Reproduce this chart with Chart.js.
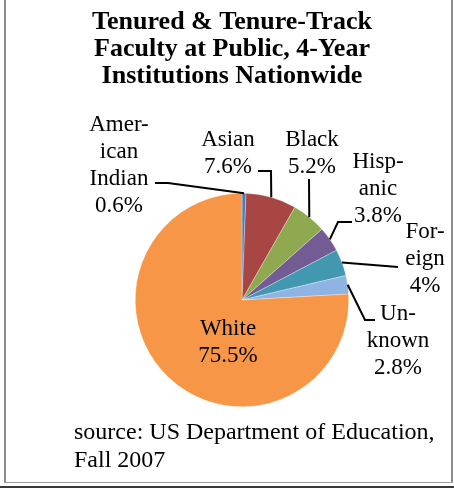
<!DOCTYPE html>
<html>
<head>
<meta charset="utf-8">
<script src="https://cdn.jsdelivr.net/npm/chart.js@4/dist/chart.umd.min.js"></script>
<style>
  html, body { margin: 0; padding: 0; background: #fff; }
  #wrap { position: relative; width: 454px; height: 493px; overflow: hidden; }
  #pie { position: absolute; left: 0; top: 0; }
  .rule { position: absolute; }
</style>
</head>
<body>
<div id="wrap">
  <canvas id="pie" width="454" height="493"></canvas>
  <div class="rule" style="left:4px;top:0;width:2px;height:483px;background:#8c8c8c"></div>
  <div class="rule" style="left:451px;top:0;width:2px;height:483px;background:#8c8c8c"></div>
  <div class="rule" style="left:4px;top:482px;width:449px;height:1px;background:#a0a0a0"></div>
  <div class="rule" style="left:0;top:486px;width:454px;height:2px;background:#3a3a3a"></div>
</div>
<script>
const titleLines = ['Tenured & Tenure-Track', 'Faculty at Public, 4-Year', 'Institutions Nationwide'];
const sourceLines = ['source: US Department of Education,', 'Fall 2007'];

const categories = ['American Indian', 'Asian', 'Black', 'Hispanic', 'Foreign', 'Unknown', 'White'];
const shares = [0.6, 7.6, 5.2, 3.8, 4, 2.8, 75.5];
const sliceColors = ['#4a7ebb', '#a84644', '#8ea94f', '#735c94', '#4198af', '#8eb4e3', '#f79646'];

// wrapped label text for each slice, percentage line is added from shares
const labelLines = [
  ['Amer-', 'ican', 'Indian'],
  ['Asian'],
  ['Black'],
  ['Hisp-', 'anic'],
  ['For-', 'eign'],
  ['Un-', 'known'],
  ['White']
];

// where each label sits: centre x, first baseline, leader end and optional elbow
const labelSpots = [
  { x: 119, y: 131, end: [155, 183], elbow: [168, 183] },
  { x: 228, y: 146, end: [258, 171], elbow: [271, 171] },
  { x: 312, y: 146, end: [309, 179], elbow: null },
  { x: 378, y: 168, end: [352, 222], elbow: [338, 222] },
  { x: 425, y: 238, end: [398, 267], elbow: null },
  { x: 398, y: 320, end: [375, 320], elbow: [365, 320] },
  { x: 228, y: 335, end: null, elbow: null }
];

const serif = '"Liberation Serif", "Times New Roman", serif';

const textLayer = {
  id: 'textLayer',
  afterDraw(chart) {
    const ctx = chart.ctx;
    ctx.save();
    ctx.fillStyle = '#000';
    ctx.textBaseline = 'alphabetic';

    ctx.font = 'bold 26px ' + serif;
    ctx.textAlign = 'center';
    titleLines.forEach((t, i) => ctx.fillText(t, 232, 29 + i * 27));

    ctx.font = '24px ' + serif;
    ctx.textAlign = 'left';
    sourceLines.forEach((t, i) => ctx.fillText(t, 74, 439 + i * 28));

    const arcs = chart.getDatasetMeta(0).data;
    ctx.font = '23px ' + serif;
    ctx.textAlign = 'center';
    ctx.strokeStyle = '#000';
    ctx.lineWidth = 2;
    arcs.forEach((arc, i) => {
      const spot = labelSpots[i];
      const lines = labelLines[i].concat(shares[i] + '%');
      lines.forEach((t, j) => ctx.fillText(t, spot.x, spot.y + j * 27));
      if (!spot.end) return;
      const mid = (arc.startAngle + arc.endAngle) / 2;
      const ax = arc.x + Math.cos(mid) * arc.outerRadius;
      const ay = arc.y + Math.sin(mid) * arc.outerRadius;
      ctx.beginPath();
      ctx.moveTo(spot.end[0], spot.end[1]);
      if (spot.elbow) ctx.lineTo(spot.elbow[0], spot.elbow[1]);
      ctx.lineTo(ax, ay);
      ctx.stroke();
    });
    ctx.restore();
  }
};

new Chart(document.getElementById('pie'), {
  type: 'pie',
  data: {
    labels: categories,
    datasets: [{
      data: shares,
      backgroundColor: sliceColors,
      borderColor: 'rgba(255,255,255,0.6)',
      borderWidth: 0.5
    }]
  },
  options: {
    responsive: false,
    animation: false,
    layout: { padding: { left: 135, right: 105, top: 193, bottom: 86 } },
    plugins: {
      legend: { display: false },
      tooltip: { enabled: false },
      title: { display: false }
    }
  },
  plugins: [textLayer]
});
</script>
</body>
</html>
